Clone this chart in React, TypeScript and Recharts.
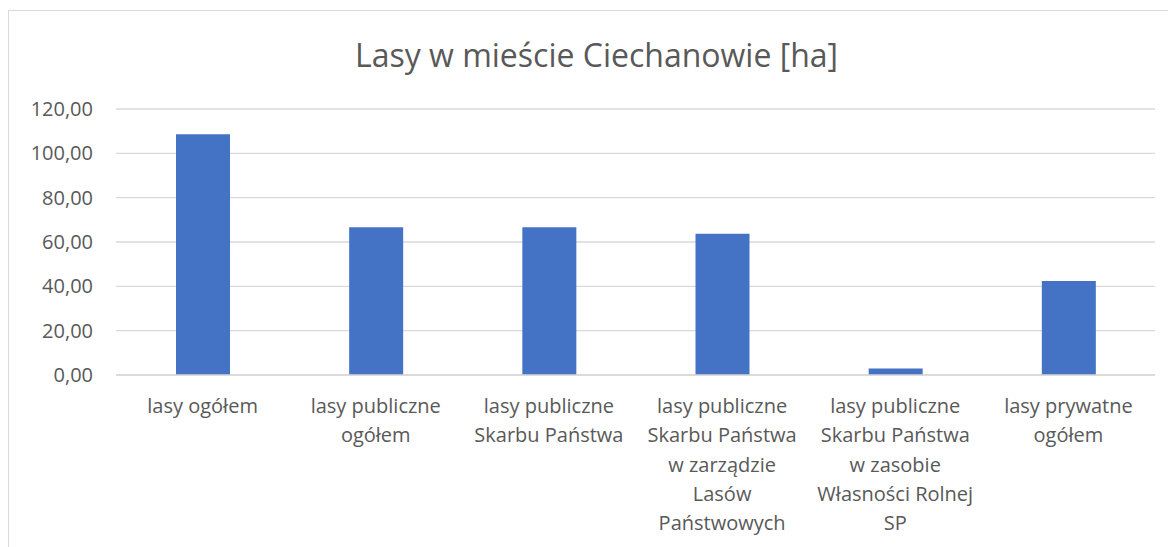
import React from "react";
import { BarChart, Bar, XAxis, YAxis, CartesianGrid } from "recharts";

const title = "Lasy w mieście Ciechanowie [ha]";
const categories = [
  "lasy ogółem",
  "lasy publiczne ogółem",
  "lasy publiczne Skarbu Państwa",
  "lasy publiczne Skarbu Państwa w zarządzie Lasów Państwowych",
  "lasy publiczne Skarbu Państwa w zasobie Własności Rolnej SP",
  "lasy prywatne ogółem",
];
const categoryLines = [
  ["lasy ogółem"],
  ["lasy publiczne", "ogółem"],
  ["lasy publiczne", "Skarbu Państwa"],
  ["lasy publiczne", "Skarbu Państwa", "w zarządzie", "Lasów", "Państwowych"],
  ["lasy publiczne", "Skarbu Państwa", "w zasobie", "Własności Rolnej", "SP"],
  ["lasy prywatne", "ogółem"],
];
const values = [108.6, 66.6, 66.6, 63.7, 2.9, 42.4];
const yTicks = [0, 20, 40, 60, 80, 100, 120];

const data = categories.map((c, i) => ({ name: c, value: values[i] }));

const FONT = "'Open Sans', sans-serif";
const TEXT = "#595959";

const CategoryTick = (props: any) => {
  const { x, y, payload } = props;
  const idx = categories.indexOf(payload.value);
  const lines = idx >= 0 ? categoryLines[idx] : [String(payload.value)];
  return (
    <text x={x} y={y + 38} textAnchor="middle" fill={TEXT} fontSize={20} fontFamily={FONT}>
      {lines.map((l: string, i: number) => (
        <tspan key={i} x={x} dy={i === 0 ? 0 : 29.3}>
          {l}
        </tspan>
      ))}
    </text>
  );
};

export default function App() {
  return (
    <div style={{ paddingTop: 2 }}>
      <div
        style={{
          position: "relative",
          width: 1167,
          height: 536,
          borderTop: "1px solid #d9d9d9",
          borderLeft: "1px solid #d9d9d9",
          overflow: "hidden",
          background: "#fff",
        }}
      >
        <BarChart
          width={1167}
          height={536}
          data={data}
          margin={{ top: 98, right: 21, bottom: 12, left: 0 }}
        >
          <CartesianGrid vertical={false} stroke="#d9d9d9" strokeWidth={1.3} />
          <XAxis
            dataKey="name"
            axisLine={{ stroke: "#d9d9d9", strokeWidth: 1.3 }}
            tickLine={false}
            tickSize={0}
            tickMargin={0}
            height={160}
            interval={0}
            tick={<CategoryTick />}
          />
          <YAxis
            domain={[0, 120]}
            ticks={yTicks}
            width={107}
            axisLine={false}
            tickLine={false}
            tickSize={0}
            tickMargin={23}
            tick={{ fill: TEXT, fontSize: 20, fontFamily: FONT }}
            tickFormatter={(v: number) => v.toFixed(2).replace(".", ",")}
          />
          <Bar dataKey="value" fill="#4472C4" barSize={54} isAnimationActive={false} />
        </BarChart>
        <svg
          width={1167}
          height={536}
          style={{ position: "absolute", left: 0, top: 0, pointerEvents: "none" }}
        >
          <text x={587.5} y={56} textAnchor="middle" fill={TEXT} fontSize={32} fontFamily={FONT}>
            {title}
          </text>
        </svg>
      </div>
    </div>
  );
}
